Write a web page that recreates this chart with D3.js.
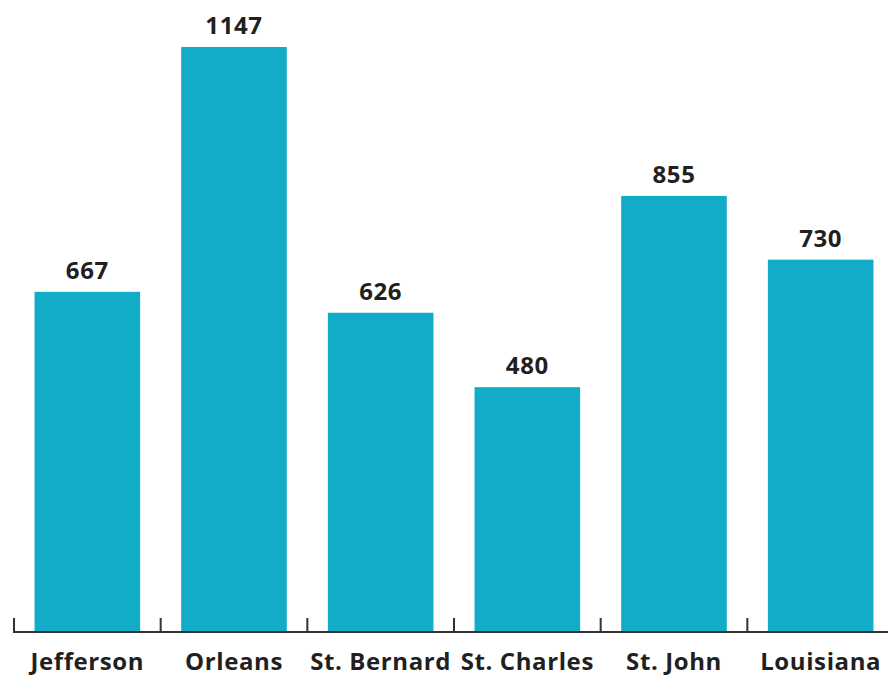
<!DOCTYPE html>
<html>
<head>
<meta charset="utf-8">
<script src="https://cdn.jsdelivr.net/npm/d3@7"></script>
<style>
  html, body { margin: 0; padding: 0; background: #fff; }
  svg { display: block; }
</style>
</head>
<body>
<div id="chart"></div>
<script>
const parishes = ["Jefferson", "Orleans", "St. Bernard", "St. Charles", "St. John", "Louisiana"];
const values = [667, 1147, 626, 480, 855, 730];

const width = 888, height = 677;
const barColor = "#12acc9";
const textColor = "#231f20";

const svg = d3.select("#chart")
  .append("svg")
  .attr("width", width)
  .attr("height", height);

const x = d3.scaleBand()
  .domain(parishes)
  .range([14, 894])
  .paddingInner(0.28)
  .paddingOuter(0.14);

const y = d3.scaleLinear()
  .domain([0, 1147])
  .range([632, 47]);

const data = parishes.map((p, i) => ({ name: p, value: values[i] }));

svg.append("g")
  .selectAll("rect")
  .data(data)
  .join("rect")
  .attr("x", d => x(d.name))
  .attr("y", d => y(d.value))
  .attr("width", x.bandwidth())
  .attr("height", d => y(0) - y(d.value))
  .attr("fill", barColor);

// axis line with upward ticks at band boundaries
const step = x.step();
const bounds = d3.range(parishes.length + 1).map(i => 14 + i * step);
const axis = svg.append("g").attr("stroke", "#333").attr("stroke-width", 2);
axis.append("line")
  .attr("x1", 14).attr("x2", 894)
  .attr("y1", y(0)).attr("y2", y(0));
axis.selectAll("line.tick")
  .data(bounds)
  .join("line")
  .attr("class", "tick")
  .attr("x1", d => d).attr("x2", d => d)
  .attr("y1", y(0) - 14).attr("y2", y(0) + 1);

svg.append("g")
  .attr("font-family", "Open Sans, sans-serif")
  .attr("font-weight", 700)
  .attr("font-size", 24)
  .attr("letter-spacing", 0.6)
  .attr("fill", textColor)
  .attr("text-anchor", "middle")
  .selectAll("text")
  .data(data)
  .join("text")
  .attr("x", d => x(d.name) + x.bandwidth() / 2)
  .attr("y", 670)
  .text(d => d.name);

svg.append("g")
  .attr("font-family", "Open Sans, sans-serif")
  .attr("font-weight", 700)
  .attr("font-size", 24)
  .attr("letter-spacing", 0.6)
  .attr("fill", textColor)
  .attr("text-anchor", "middle")
  .selectAll("text")
  .data(data)
  .join("text")
  .attr("x", d => x(d.name) + x.bandwidth() / 2)
  .attr("y", d => y(d.value) - 13)
  .text(d => d.value);
</script>
</body>
</html>
